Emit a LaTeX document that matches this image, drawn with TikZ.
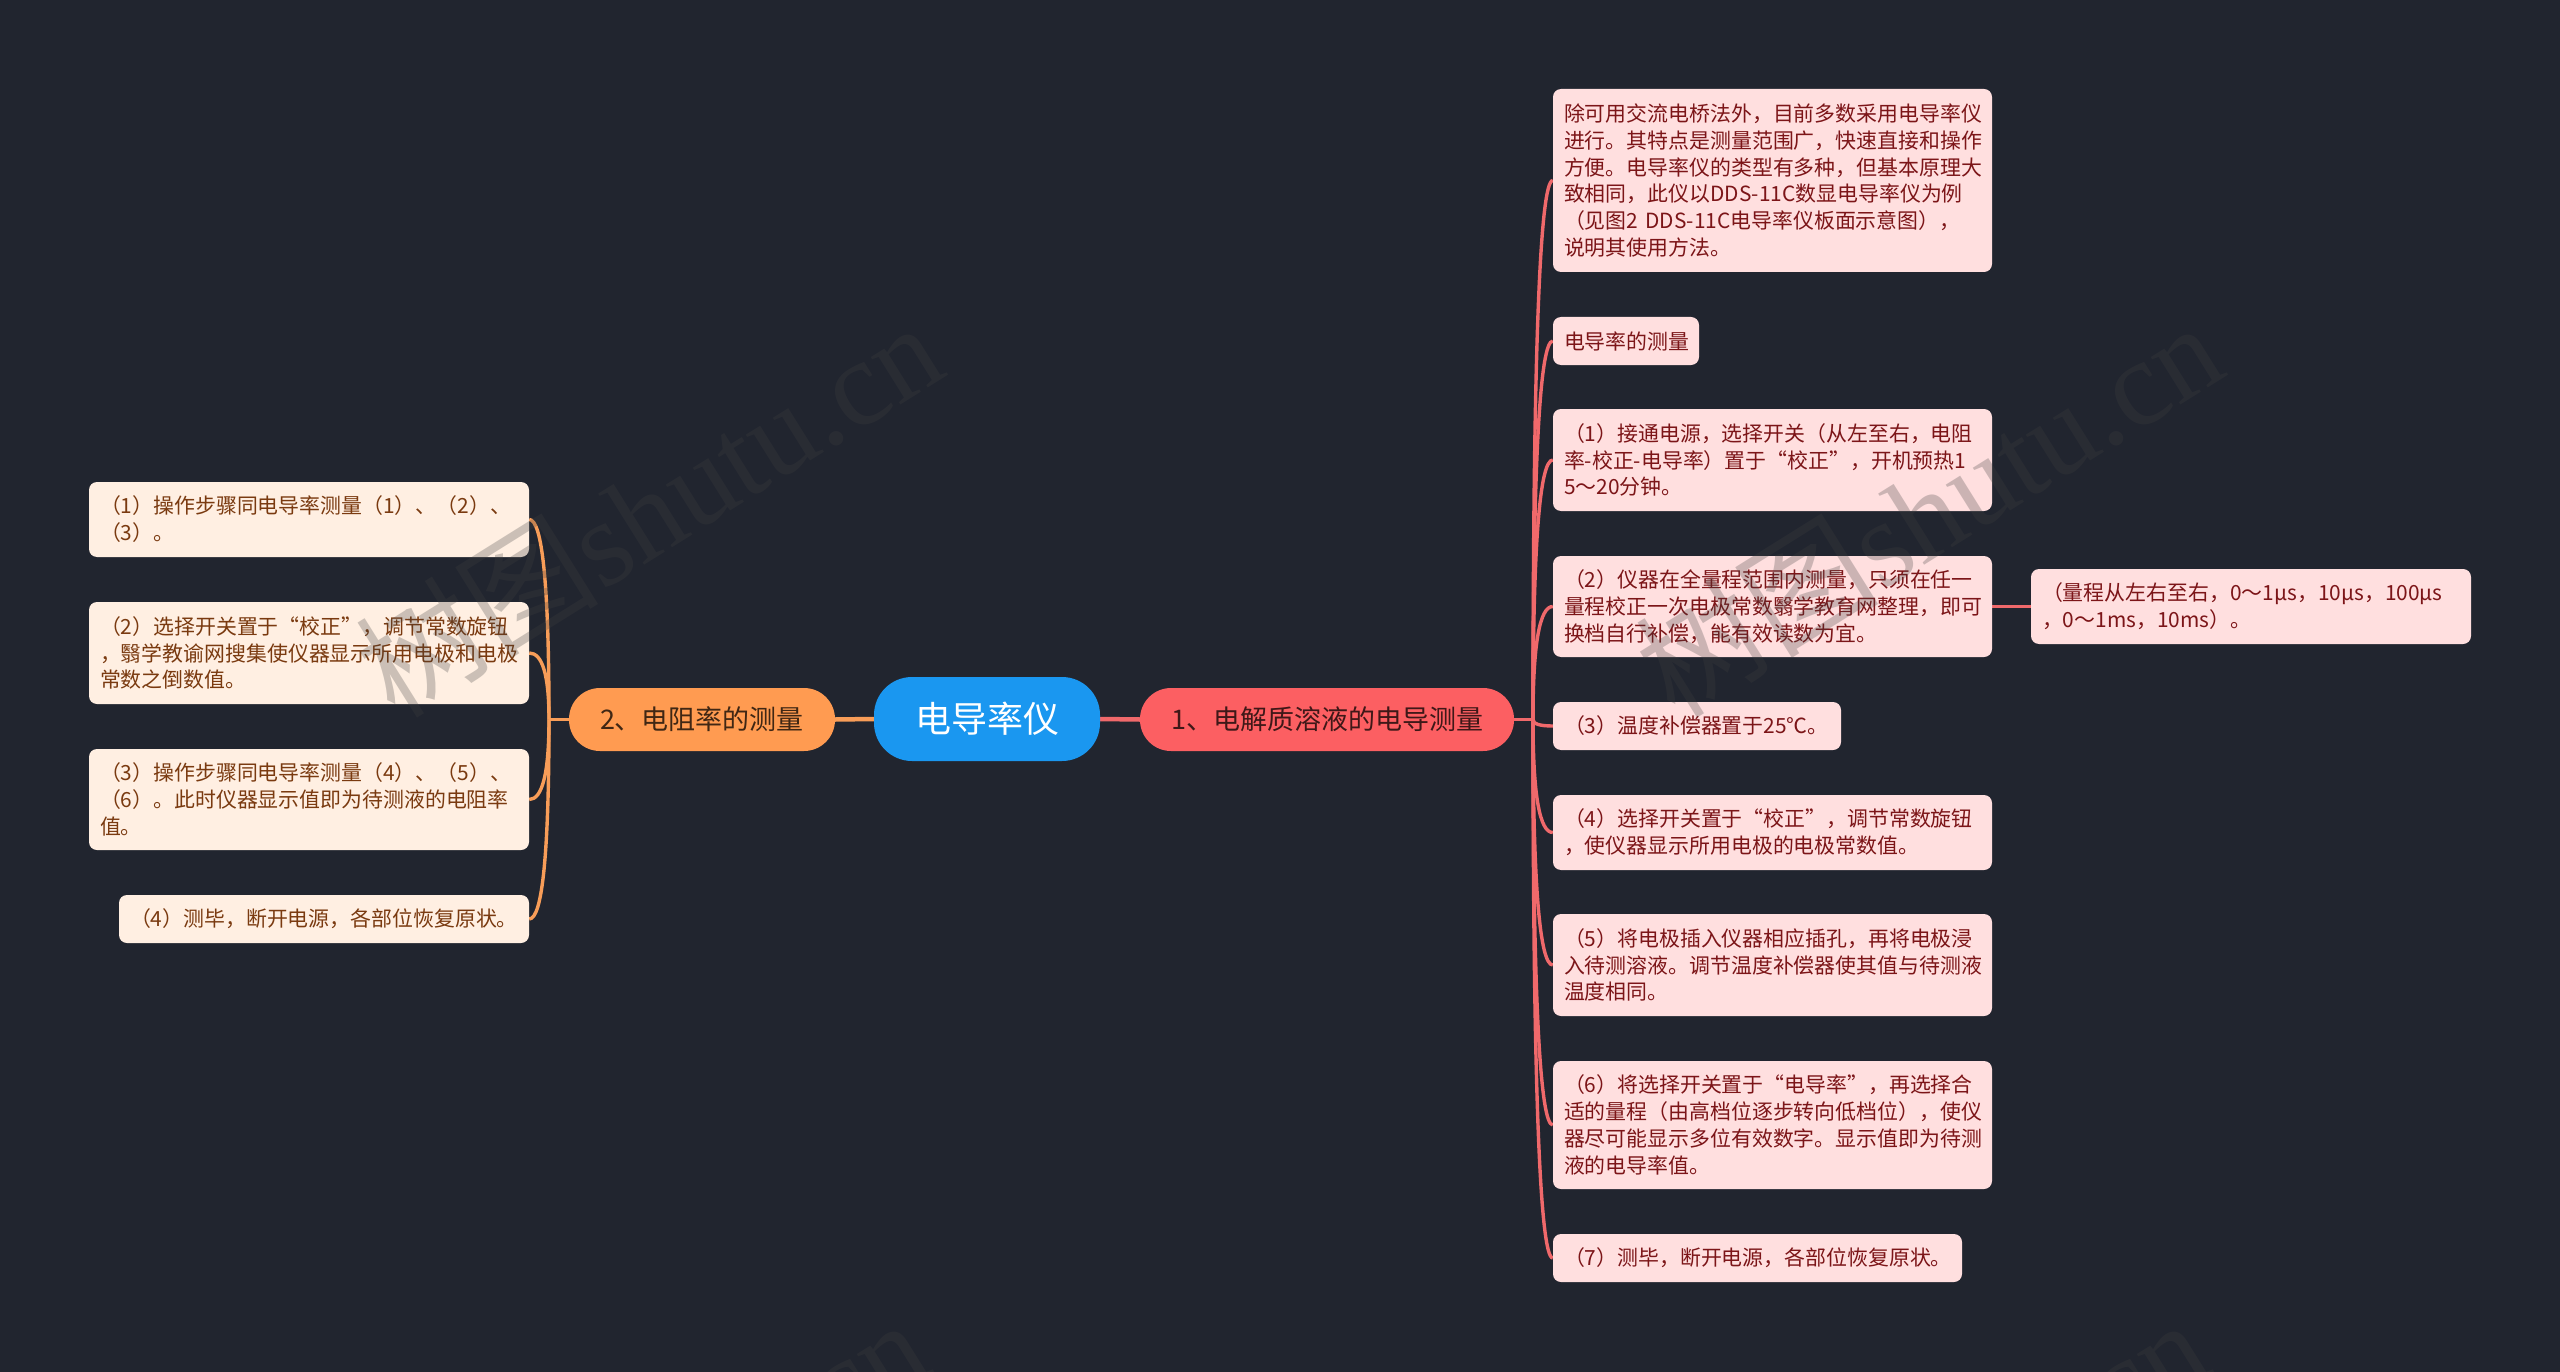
\documentclass[tikz,border=0pt]{standalone}
\usepackage{fontspec}
\setmainfont{Noto Sans CJK SC}
\newfontfamily\wmlatin{Liberation Serif}
\usetikzlibrary{calc}
\pgfdeclarelayer{backfill}
\pgfdeclarelayer{links}
\pgfsetlayers{backfill,links,main}
\definecolor{bgc}{HTML}{21252F}
\definecolor{rootc}{HTML}{1A97F0}
\definecolor{redc}{HTML}{FC5F62}
\definecolor{orc}{HTML}{FF9B51}
\definecolor{rbox}{HTML}{FFDFDF}
\definecolor{lbox}{HTML}{FFEFE2}
\definecolor{rtxt}{HTML}{7C1518}
\definecolor{ltxt}{HTML}{7A3A10}
\definecolor{rline}{HTML}{F0696B}
\definecolor{oline}{HTML}{F89D58}
\definecolor{wmc}{HTML}{404040}
\tikzset{
  anybox/.style={rectangle,inner sep=0pt,align=left,rounded corners=8pt,font=\fontsize{20.9pt}{26.9pt}\selectfont},
  rightbox/.style={anybox,fill=rbox,text=rtxt},
  leftbox/.style={anybox,fill=lbox,text=ltxt},
  pill/.style={rectangle,inner sep=0pt,align=center},
  rootnode/.style={pill,fill=rootc,text=white,rounded corners=38pt,font=\fontsize{36pt}{40pt}\selectfont},
  mainr/.style={pill,fill=redc,text=black!75!redc,rounded corners=31pt,font=\fontsize{27pt}{32pt}\selectfont},
  mainl/.style={pill,fill=orc,text=black!75!orc,rounded corners=31pt,font=\fontsize{27pt}{32pt}\selectfont},
  redlink/.style={draw=rline,line width=3.4pt},
  orlink/.style={draw=oline,line width=3.4pt},
  wmark/.style={text=wmc,text opacity=.27,rotate=32,inner sep=0pt,font=\fontsize{122pt}{122pt}\selectfont},
}
% name, x1, y1, x2, y2, style, text
\newcommand\bx[7]{%
  \pgfmathsetmacro\bw{#4-#2}\pgfmathsetmacro\bh{#5-#3}\pgfmathsetmacro\tw{#4-#2-22}%
  \node[#6,minimum width=\bw pt,minimum height=\bh pt,text width=\tw pt] (#1) at ({(#2+#4)/2},{(#3+#5)/2}) {#7};}
\newcommand\px[7]{%
  \pgfmathsetmacro\bw{#4-#2}\pgfmathsetmacro\bh{#5-#3}%
  \node[#6,minimum width=\bw pt,minimum height=\bh pt] (#1) at ({(#2+#4)/2},{(#3+#5)/2}) {#7};}
% style, trunk coordinate, target point
\newcommand\qc[3]{\draw[#1] (#2) .. controls ($(#2)!0.667!(#2 |- #3)$) and ($(#3)!0.667!(#2 |- #3)$) .. (#3);}
\newcommand\wmtext{树图{\wmlatin shutu.cn}}
\begin{document}
\begin{tikzpicture}[x=1pt,y=-1pt]
\useasboundingbox (0,0) rectangle (2560,1372);
\begin{pgfonlayer}{backfill}
\fill[bgc] (0,0) rectangle (2560,1372);
\end{pgfonlayer}
\px{root}{874}{677}{1100}{761}{rootnode}{电导率仪}
\px{mr}{1140}{688}{1514}{751}{mainr}{1、电解质溶液的电导测量}
\px{ml}{569}{688}{835}{751}{mainl}{2、电阻率的测量}
\bx{r1}{1553}{89}{1992}{272}{rightbox}{除可用交流电桥法外，目前多数采用电导率仪\\进行。其特点是测量范围广，快速直接和操作\\方便。电导率仪的类型有多种，但基本原理大\\致相同，此仪以DDS-11C数显电导率仪为例\\（见图2 DDS-11C电导率仪板面示意图），\\说明其使用方法。}
\bx{r2}{1553}{317}{1699}{365}{rightbox}{电导率的测量}
\bx{r3}{1553}{409}{1992}{511}{rightbox}{（1）接通电源，选择开关（从左至右，电阻\\率-校正-电导率）置于“校正”，开机预热1\\5～20分钟。}
\bx{r4}{1553}{556}{1992}{657}{rightbox}{（2）仪器在全量程范围内测量，只须在任一\\量程校正一次电极常数翳学教育网整理，即可\\换档自行补偿，能有效读数为宜。}
\bx{r5}{1553}{702}{1841}{750}{rightbox}{（3）温度补偿器置于25℃。}
\bx{r6}{1553}{795}{1992}{870}{rightbox}{（4）选择开关置于“校正”，调节常数旋钮\\，使仪器显示所用电极的电极常数值。}
\bx{r7}{1553}{914}{1992}{1016}{rightbox}{（5）将电极插入仪器相应插孔，再将电极浸\\入待测溶液。调节温度补偿器使其值与待测液\\温度相同。}
\bx{r8}{1553}{1061}{1992}{1189}{rightbox}{（6）将选择开关置于“电导率”，再选择合\\适的量程（由高档位逐步转向低档位），使仪\\器尽可能显示多位有效数字。显示值即为待测\\液的电导率值。}
\bx{r9}{1553}{1234}{1962}{1282}{rightbox}{（7）测毕，断开电源，各部位恢复原状。}
\bx{x1}{2031}{569}{2471}{644}{rightbox}{（量程从左右至右，0～1μs，10μs，100μs\\，0～1ms，10ms）。}
\bx{l1}{89}{482}{529}{557}{leftbox}{（1）操作步骤同电导率测量（1）、（2）、\\（3）。}
\bx{l2}{89}{602}{529}{704}{leftbox}{（2）选择开关置于“校正”，调节常数旋钮\\，翳学教谕网搜集使仪器显示所用电极和电极\\常数之倒数值。}
\bx{l3}{89}{749}{529}{850}{leftbox}{（3）操作步骤同电导率测量（4）、（5）、\\（6）。此时仪器显示值即为待测液的电阻率\\值。}
\bx{l4}{119}{895}{529}{943}{leftbox}{（4）测毕，断开电源，各部位恢复原状。}
\coordinate (rt) at (1533,719.5);
\coordinate (lt) at (549,719.5);
\begin{pgfonlayer}{links}
\draw[redlink,line width=4.5pt] (root.east) -- (mr.west);
\draw[orlink,line width=4.5pt] (root.west) -- (ml.east);
\draw[redlink] (mr.east) -- (rt);
\draw[orlink] (ml.west) -- (lt);
\draw[redlink] (r4.east) -- (x1.west);
\foreach \n in {r1,r2,r3,r4,r5,r6,r7,r8,r9}{\qc{redlink}{rt}{\n.west}}
\foreach \n in {l1,l2,l3,l4}{\qc{orlink}{lt}{\n.east}}
\end{pgfonlayer}
\begin{scope}
\clip (0,0) rectangle (2560,1372);
\node[wmark] (w1) at (648,508) {\wmtext};
\node[wmark] (w2) at (1928,508) {\wmtext};
\node[wmark] (w3) at (634,1505) {\wmtext};
\node[wmark] (w4) at (1914,1505) {\wmtext};
\end{scope}
\end{tikzpicture}
\end{document}
